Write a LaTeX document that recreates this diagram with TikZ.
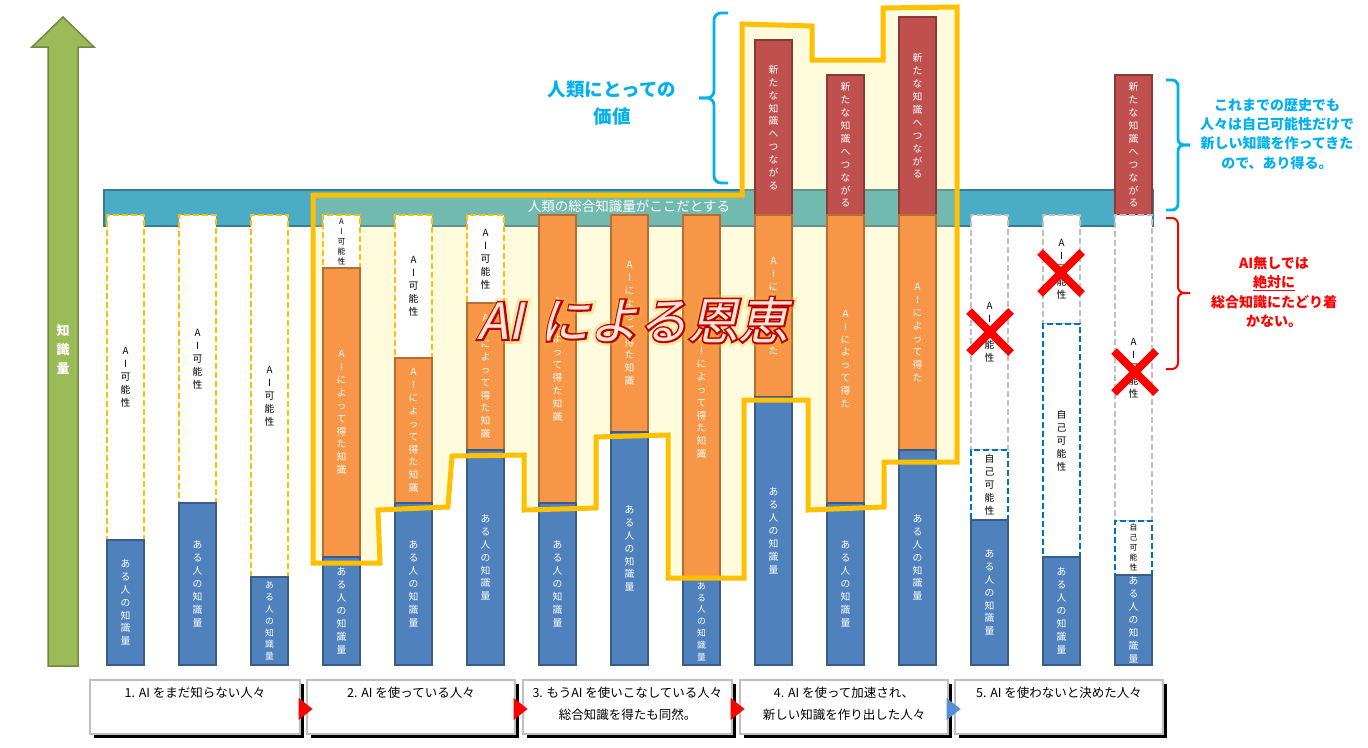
\documentclass[tikz,border=0pt]{standalone}
\usepackage{fontspec}
\setmainfont{Noto Sans CJK JP}
\newfontfamily\slantjp[FakeSlant=0.22]{Noto Sans CJK JP}
\newfontfamily\slantjpo[FakeSlant=0.22,FakeBold=7]{Noto Sans CJK JP}
\newfontfamily\slantjpg[FakeSlant=0.22,FakeBold=18]{Noto Sans CJK JP}
\usetikzlibrary{calc,shadows}
\definecolor{cblue}{HTML}{4F81BD}
\definecolor{cblueD}{HTML}{385D8A}
\definecolor{corange}{HTML}{F79646}
\definecolor{corangeD}{HTML}{B66D31}
\definecolor{cred}{HTML}{C0504D}
\definecolor{credD}{HTML}{8C3836}
\definecolor{cgold}{HTML}{FFC000}
\definecolor{cgray}{HTML}{BFBFBF}
\definecolor{cself}{HTML}{0070C0}
\definecolor{cteal}{HTML}{4BACC6}
\definecolor{ctealD}{HTML}{357D91}
\definecolor{cgreen}{HTML}{9BBB59}
\definecolor{cgreenD}{HTML}{71893F}
\definecolor{covl}{RGB}{255,240,100}
\definecolor{csky}{HTML}{00B0F0}
\definecolor{cxred}{HTML}{FF0000}
\definecolor{cdarkred}{HTML}{C00000}
\definecolor{cpeach}{HTML}{FCE4D6}
\definecolor{cglow}{HTML}{E3B93C}
\definecolor{ctri}{HTML}{558ED5}
\definecolor{lgray}{HTML}{BFBFBF}

\def\TxBlue{あ\\る\\人\\の\\知\\識\\量}
\def\TxAI{A\\I\\可\\能\\性}
\def\TxOr{A\\I\\に\\よ\\っ\\て\\得\\た\\知\\識}
\def\TxOrS{A\\I\\に\\よ\\っ\\て\\得\\た}
\def\TxRed{新\\た\\な\\知\\識\\へ\\つ\\な\\が\\る}
\def\TxSelf{自\\己\\可\\能\\性}
\def\TxBig{AI\hspace*{17pt}による恩恵}

\newcommand\cseg[7]{%
  \pgfmathsetmacro\sgx{125.5+72*(#2-1)}%
  \pgfmathsetmacro\sgy{(#3+#4)/2}%
  \pgfmathsetmacro\sgh{#4-#3}%
  \node[#5, minimum height=\sgh pt] (#1) at (\sgx,\sgy) {};%
  \node[#6] (#1t) at (#1.center) {#7};%
}

\begin{document}
\begin{tikzpicture}[x=1pt,y=-1pt,
  colbox/.style={rectangle, minimum width=37pt, inner sep=0pt, line width=1.5pt},
  bluebox/.style={colbox, fill=cblue, draw=cblueD},
  orbox/.style={colbox, fill=corange, draw=corangeD},
  redbox/.style={colbox, fill=cred, draw=credD},
  aibox/.style={colbox, fill=white, draw=cgold, line width=2pt, dash pattern=on 6pt off 3pt},
  graybox/.style={colbox, fill=white, draw=cgray, line width=2pt, dash pattern=on 6pt off 3pt},
  selfbox/.style={colbox, fill=white, draw=cself, line width=2pt, dash pattern=on 6pt off 3pt},
  vt/.style={align=center, inner sep=0pt, font=\fontsize{9.8}{12.9}\selectfont},
  wt/.style={vt, text=white},
  bk/.style={vt, text=black},
  wts/.style={wt, font=\fontsize{8.8}{11.8}\selectfont},
  bks/.style={bk, font=\fontsize{7.8}{10}\selectfont},
  garrow/.style={fill=cgreen, draw=cgreenD, line width=1.5pt},
  barbox/.style={rectangle, fill=cteal, draw=ctealD, line width=1.5pt, inner sep=0pt},
  yline/.style={draw=cgold, line width=5pt, line join=miter},
  xcross/.style={draw=cxred, line width=8pt},
  bigtext/.style={inner sep=0pt},
  bluebr/.style={draw=csky, line width=2.8pt},
  redbr/.style={draw=cxred, line width=2pt},
  lbox/.style={rectangle, draw=lgray, fill=white, line width=1.2pt, minimum height=54pt, inner sep=0pt,
    drop shadow={shadow xshift=4pt, shadow yshift=-4pt, fill=black, opacity=1}},
  ltext/.style={inner sep=0pt, font=\fontsize{12.5}{15}\selectfont, text=black}
]
\useasboundingbox (0,0) rectangle (1368,747);
\fill[white] (0,0) rectangle (1368,747);

% knowledge axis arrow
\draw[garrow] (48,666) -- (48,47) -- (32,47) -- (63,17) -- (94,47) -- (78,47) -- (78,666) -- cycle;
\node[align=center, inner sep=0pt, text=white, font=\bfseries\fontsize{13}{19}\selectfont] (klabel) at (63,349) {知\\識\\量};

% total-knowledge bar
\node[barbox, minimum width=1049pt, minimum height=36pt] (bar) at (628.5,208) {};

% highlighted region (fill)
\fill[covl, fill opacity=0.22] (313,195) -- (742,195) -- (742,24) -- (812,26) -- (812,60) -- (883,60) -- (883,8) -- (957,7) -- (957,462) -- (884,462) -- (884,507) -- (808,510) -- (808,400) -- (744,400) -- (744,578) -- (668,578) -- (668,435) -- (596,437) -- (596,508) -- (524,510) -- (524,455) -- (452,456) -- (448,507) -- (378,510) -- (380,563) -- (313,563) -- cycle;

\node[inner sep=0pt, text=white, font=\fontsize{13.5}{16}\selectfont] (bartext) at (629,206) {人類の総合知識量がここだとする};

% columns
\cseg{s1a}{1}{215}{540}{aibox}{bk}{\TxAI}
\cseg{s1b}{1}{540}{665}{bluebox}{wt}{\TxBlue}
\cseg{s2a}{2}{215}{503}{aibox}{bk}{\TxAI}
\cseg{s2b}{2}{503}{665}{bluebox}{wt}{\TxBlue}
\cseg{s3a}{3}{215}{577}{aibox}{bk}{\TxAI}
\cseg{s3b}{3}{577}{665}{bluebox}{wts}{\TxBlue}

\cseg{s4a}{4}{215}{268}{aibox}{bks}{\TxAI}
\cseg{s4b}{4}{268}{557}{orbox}{wt}{\TxOr}
\cseg{s4c}{4}{557}{665}{bluebox}{wt}{\TxBlue}
\cseg{s5a}{5}{215}{358}{aibox}{bk}{\TxAI}
\cseg{s5b}{5}{358}{503}{orbox}{wt}{\TxOr}
\cseg{s5c}{5}{503}{665}{bluebox}{wt}{\TxBlue}
\cseg{s6a}{6}{215}{303}{aibox}{bk}{\TxAI}
\cseg{s6b}{6}{303}{450}{orbox}{wt}{\TxOr}
\cseg{s6c}{6}{450}{665}{bluebox}{wt}{\TxBlue}

\cseg{s7a}{7}{215}{503}{orbox}{wt}{\TxOr}
\cseg{s7b}{7}{503}{665}{bluebox}{wt}{\TxBlue}
\cseg{s8a}{8}{215}{432}{orbox}{wt}{\TxOr}
\cseg{s8b}{8}{432}{665}{bluebox}{wt}{\TxBlue}
\cseg{s9a}{9}{215}{578}{orbox}{wt}{\TxOr}
\cseg{s9b}{9}{578}{665}{bluebox}{wts}{\TxBlue}

\cseg{s10a}{10}{40}{215}{redbox}{wt}{\TxRed}
\cseg{s10b}{10}{215}{397}{orbox}{wt}{\TxOrS}
\cseg{s10c}{10}{397}{665}{bluebox}{wt}{\TxBlue}
\cseg{s11a}{11}{75}{215}{redbox}{wt}{\TxRed}
\cseg{s11b}{11}{215}{503}{orbox}{wt}{\TxOrS}
\cseg{s11c}{11}{503}{665}{bluebox}{wt}{\TxBlue}
\cseg{s12a}{12}{17}{215}{redbox}{wt}{\TxRed}
\cseg{s12b}{12}{215}{450}{orbox}{wt}{\TxOrS}
\cseg{s12c}{12}{450}{665}{bluebox}{wt}{\TxBlue}

\cseg{s13a}{13}{215}{450}{graybox}{bk}{\TxAI}
\cseg{s13b}{13}{450}{520}{selfbox}{bk}{\TxSelf}
\cseg{s13c}{13}{520}{665}{bluebox}{wt}{\TxBlue}
\cseg{s14a}{14}{215}{324}{graybox}{bk}{\TxAI}
\cseg{s14b}{14}{324}{557}{selfbox}{bk}{\TxSelf}
\cseg{s14c}{14}{557}{665}{bluebox}{wt}{\TxBlue}
\cseg{s15a}{15}{75}{215}{redbox}{wt}{\TxRed}
\cseg{s15b}{15}{215}{521}{graybox}{bk}{\TxAI}
\cseg{s15c}{15}{521}{575}{selfbox}{bks}{\TxSelf}
\cseg{s15d}{15}{575}{665}{bluebox}{wt}{\TxBlue}

% red crosses
\coordinate (x13) at (990,332);
\coordinate (x14) at (1061,273);
\coordinate (x15) at (1135,372);
\foreach \c in {x13,x14,x15}{
  \draw[xcross] ($(\c)+(-21,-21)$) -- ($(\c)+(21,21)$);
  \draw[xcross] ($(\c)+(-21,21)$) -- ($(\c)+(21,-21)$);
}

% highlighted region (outline)
\draw[yline] (313,195) -- (742,195) -- (742,24) -- (812,26) -- (812,60) -- (883,60) -- (883,8) -- (957,7) -- (957,462) -- (884,462) -- (884,507) -- (808,510) -- (808,400) -- (744,400) -- (744,578) -- (668,578) -- (668,435) -- (596,437) -- (596,508) -- (524,510) -- (524,455) -- (452,456) -- (448,507) -- (378,510) -- (380,563) -- (313,563) -- cycle;

% big title text: glow, dark red outline, light fill
\coordinate (bigc) at (633,320);
\node[bigtext, text=cglow, opacity=0.3, font=\slantjpg\fontsize{50}{56}\selectfont] (bigglow) at (bigc) {\TxBig};
\node[bigtext, text=cdarkred, font=\slantjpo\fontsize{50}{56}\selectfont] (bigline) at (bigc) {\TxBig};
\node[bigtext, text=cpeach, font=\slantjp\fontsize{50}{56}\selectfont] (bigt) at (bigc) {\TxBig};

% braces
\draw[bluebr, rounded corners=7pt] (728,13) -- (714,13) -- (714,98) -- (699,98);
\draw[bluebr, rounded corners=7pt] (699,98) -- (714,98) -- (714,183) -- (728,183);
\node[align=center, inner sep=0pt, text=csky, font=\bfseries\fontsize{18.5}{27}\selectfont] (valuelabel) at (612,103) {人類にとっての\\価値};

\draw[bluebr, rounded corners=6pt] (1166,80) -- (1178,80) -- (1178,145) -- (1190,145);
\draw[bluebr, rounded corners=6pt] (1190,145) -- (1178,145) -- (1178,210) -- (1166,210);
\node[align=center, inner sep=0pt, text=csky, font=\bfseries\fontsize{14}{19.3}\selectfont] (note1) at (1277,134) {これまでの歴史でも\\人々は自己可能性だけで\\新しい知識を作ってきた\\ので、あり得る。};

\draw[redbr, rounded corners=6pt] (1166,218) -- (1178,218) -- (1178,293) -- (1190,293);
\draw[redbr, rounded corners=6pt] (1190,293) -- (1178,293) -- (1178,369) -- (1166,369);
\node[align=center, inner sep=0pt, text=cxred, font=\bfseries\fontsize{14}{19.5}\selectfont] (note2) at (1274,292) {AI無しでは\\\underline{絶対に}\\総合知識にたどり着\\かない。};

% bottom category boxes
\node[lbox, minimum width=210pt] (b1) at (195,707) {};
\node[lbox, minimum width=208pt] (b2) at (411,707) {};
\node[lbox, minimum width=209pt] (b3) at (627.5,707) {};
\node[lbox, minimum width=208pt] (b4) at (844,707) {};
\node[lbox, minimum width=208pt] (b5) at (1059,707) {};

\node[ltext] (t1) at (195,693) {1. AI をまだ知らない人々};
\node[ltext] (t2) at (411,693) {2. AI を使っている人々};
\node[ltext] (t3a) at (627.5,693) {3. もうAI を使いこなしている人々};
\node[ltext] (t3b) at (627.5,715) {総合知識を得たも同然。};
\node[ltext] (t4a) at (844,693) {4. AI を使って加速され、};
\node[ltext] (t4b) at (844,715) {新しい知識を作り出した人々};
\node[ltext] (t5) at (1059,693) {5. AI を使わないと決めた人々};

\fill[cxred] ($(b1.east)+(-2,-9)$) -- ($(b1.east)+(12,2)$) -- ($(b1.east)+(-2,13)$) -- cycle;
\fill[cxred] ($(b2.east)+(-2,-9)$) -- ($(b2.east)+(12,2)$) -- ($(b2.east)+(-2,13)$) -- cycle;
\fill[cxred] ($(b3.east)+(-2,-9)$) -- ($(b3.east)+(12,2)$) -- ($(b3.east)+(-2,13)$) -- cycle;
\fill[ctri] ($(b4.east)+(-2,-9)$) -- ($(b4.east)+(12,2)$) -- ($(b4.east)+(-2,13)$) -- cycle;
\end{tikzpicture}
\end{document}
